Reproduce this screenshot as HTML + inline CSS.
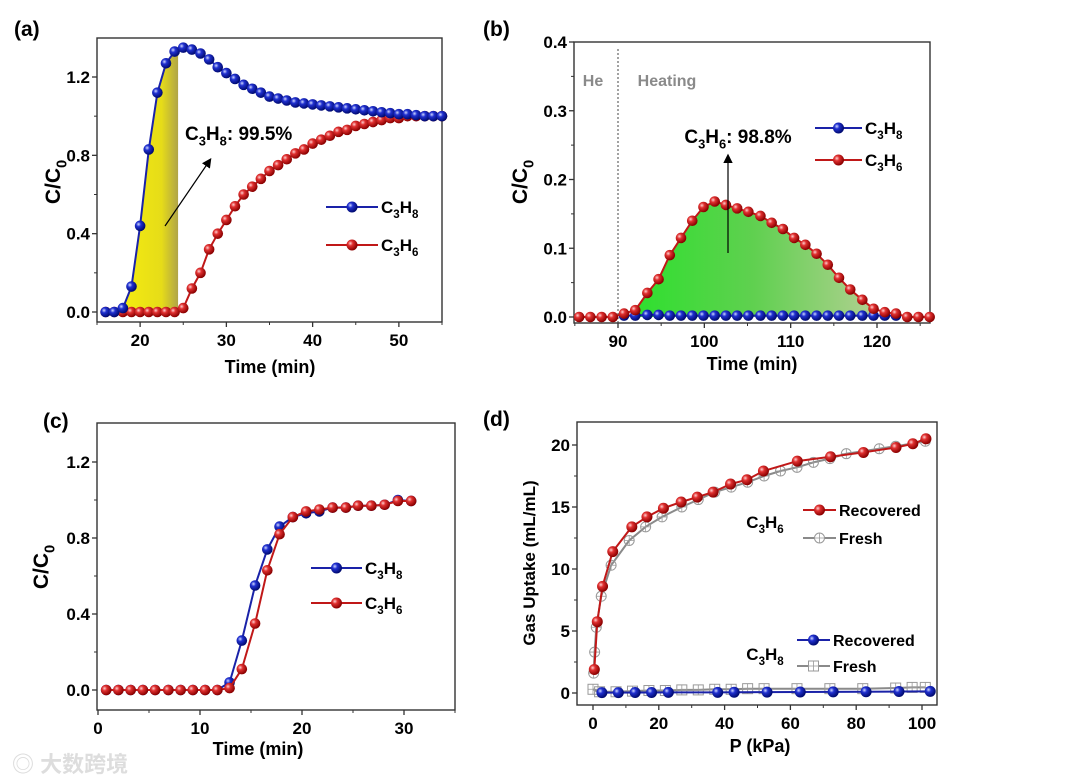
<!DOCTYPE html>
<html><head><meta charset="utf-8"><style>
html,body{margin:0;padding:0;background:#fff;}
svg{display:block;font-family:"Liberation Sans","Noto Sans CJK SC",sans-serif;}
</style></head><body>
<svg id="fig" width="1080" height="782" viewBox="0 0 1080 782">
<defs>
<radialGradient id="gRed" cx="35%" cy="35%" r="65%"><stop offset="0" stop-color="#ffd0d0"/><stop offset="0.35" stop-color="#e03030"/><stop offset="1" stop-color="#8a0000"/></radialGradient>
<radialGradient id="gBlue" cx="35%" cy="35%" r="65%"><stop offset="0" stop-color="#d0d8ff"/><stop offset="0.35" stop-color="#2030d0"/><stop offset="1" stop-color="#000a70"/></radialGradient>
<linearGradient id="gYellow" x1="0" x2="1" y1="0" y2="0"><stop offset="0" stop-color="#f4ec10"/><stop offset="0.7" stop-color="#e6dc18"/><stop offset="1" stop-color="#b0a448"/></linearGradient>
<linearGradient id="gGreen" x1="0" x2="1" y1="0" y2="0"><stop offset="0" stop-color="#2ee02e"/><stop offset="0.5" stop-color="#60d050"/><stop offset="1" stop-color="#b0d090"/></linearGradient>
<marker id="arr" markerWidth="8" markerHeight="8" refX="6" refY="4" orient="auto"><path d="M0,0 L8,4 L0,8 Z" fill="#000"/></marker>
</defs>
</svg>
<script>
// ---------- data ----------
const aTime=[16,17,18,19,20,21,22,23,24,25,26,27,28,29,30,31,32,33,34,35,36,37,38,39,40,41,42,43,44,45,46,47,48,49,50,51,52,53,54,55];
const aC3H8=[0,0,0.02,0.13,0.44,0.83,1.12,1.27,1.33,1.35,1.34,1.32,1.29,1.25,1.22,1.19,1.16,1.14,1.12,1.10,1.09,1.08,1.07,1.065,1.06,1.055,1.05,1.045,1.04,1.035,1.03,1.025,1.02,1.015,1.01,1.01,1.005,1.0,1.0,1.0];
const aC3H6=[0,0,0,0,0,0,0,0,0,0.02,0.12,0.20,0.32,0.40,0.47,0.54,0.60,0.64,0.68,0.72,0.75,0.78,0.81,0.83,0.86,0.88,0.90,0.92,0.93,0.95,0.96,0.97,0.98,0.99,0.99,1.0,1.0,1.0,1.0,1.0];
const bTime=[85.5,86.8,88.1,89.4,90.7,92.0,93.4,94.7,96.0,97.3,98.6,99.9,101.2,102.5,103.8,105.1,106.5,107.8,109.1,110.4,111.7,113.0,114.3,115.6,116.9,118.3,119.6,120.9,122.2,123.5,124.8,126.1];
const bC3H6=[0,0,0,0,0.005,0.01,0.035,0.055,0.09,0.115,0.14,0.16,0.168,0.163,0.158,0.153,0.147,0.137,0.128,0.115,0.105,0.092,0.076,0.057,0.04,0.025,0.012,0.007,0.005,0,0,0];
const bC3H8=[null,null,null,null,0.002,0.002,0.003,0.003,0.002,0.002,0.002,0.002,0.002,0.002,0.002,0.002,0.002,0.002,0.002,0.002,0.002,0.002,0.002,0.002,0.002,0.002,0.002,0.002,0.002,null,null,null];
const cTime=[0.8,2.0,3.2,4.4,5.6,6.9,8.1,9.3,10.5,11.7,12.9,14.1,15.4,16.6,17.8,19.1,20.4,21.7,23.0,24.3,25.5,26.8,28.1,29.4,30.7];
const cC3H8=[0,0,0,0,0,0,0,0,0,0,0.04,0.26,0.55,0.74,0.86,0.91,0.93,0.94,0.96,0.96,0.97,0.97,0.975,1.0,0.995];
const cC3H6=[0,0,0,0,0,0,0,0,0,0,0.01,0.11,0.35,0.63,0.82,0.91,0.94,0.95,0.96,0.96,0.97,0.97,0.975,0.995,0.995];
const dRecP6=[0.4,1.3,2.9,6.0,11.8,16.4,21.4,26.8,31.7,36.5,41.8,46.8,51.8,62.1,72.2,82.2,92.1,97.2,101.2];
const dRecU6=[1.9,5.75,8.6,11.4,13.4,14.2,14.9,15.4,15.8,16.2,16.85,17.2,17.9,18.7,19.05,19.4,19.8,20.1,20.5];
const dFrP6=[0.2,0.5,1.0,2.5,5.5,11,16,21,27,32,37,42,47,52,57,62,67,72,77,87,92,101];
const dFrU6=[1.6,3.3,5.3,7.8,10.3,12.3,13.4,14.2,15.0,15.6,16.2,16.6,17.0,17.5,17.9,18.2,18.6,18.9,19.3,19.7,19.9,20.3];
const dRecP8=[2.7,7.7,12.8,17.8,22.9,37.9,42.9,52.9,63.0,73.0,83.0,93.0,102.5];
const dRecU8=[0.03,0.03,0.04,0.04,0.05,0.05,0.06,0.07,0.08,0.09,0.1,0.12,0.13];
const dFrP8=[0,2,7,12,17,22,27,32,37,42,47,52,62,72,82,92,97,101];
const dFrU8=[0.3,0.1,0.1,0.15,0.2,0.2,0.25,0.25,0.3,0.3,0.35,0.35,0.35,0.35,0.35,0.4,0.45,0.45];

// ---------- helpers ----------
const NS='http://www.w3.org/2000/svg';
const svg=document.getElementById('fig');
function mk(tag,attrs,parent){const e=document.createElementNS(NS,tag);for(const k in attrs)e.setAttribute(k,attrs[k]);(parent||svg).appendChild(e);return e;}
function lin(d0,d1,p0,p1){return v=>p0+(v-d0)*(p1-p0)/(d1-d0);}
function txt(x,y,s,size,anchor,parent,fill){const t=mk('text',{x:x,y:y,'font-size':size,'font-weight':'bold','text-anchor':anchor||'start',fill:fill||'#000'},parent);t.textContent=s;return t;}
function chem(x,y,a,b,size,anchor,parent,extra){ // C_a H_b
  const t=mk('text',{x:x,y:y,'font-size':size,'font-weight':'bold','text-anchor':anchor||'start'},parent);
  const parts=[['C',0],[a,1],['H',0],[b,1]];
  parts.forEach(p=>{const s=mk('tspan',{},t);s.textContent=p[0];if(p[1]){s.setAttribute('font-size',size*0.68);s.setAttribute('dy',size*0.28);}else if(t.childNodes.length>1){s.setAttribute('dy',-size*0.28);}});
  if(extra){const s=mk('tspan',{dy:-size*0.28},t);s.textContent=extra;}
  return t;
}
function axes(g,box,xs,ys,xMaj,xMin,yMaj,yMin,xFmt,yFmt){
  const fr=mk('rect',{x:box[0],y:box[1],width:box[2]-box[0],height:box[3]-box[1],fill:'none',stroke:'#333','stroke-width':1.4},g);
  
  
  const xa=mk('g',{},g);
  
  
  xMaj.forEach(v=>{const x=xs(v);mk('line',{x1:x,x2:x,y1:box[3],y2:box[3]+5,stroke:'#333','stroke-width':1.3},xa);
    const t=txt(x,box[3]+24,xFmt(v),17,'middle',xa);
    
    });
  xMin.forEach(v=>{const x=xs(v);mk('line',{x1:x,x2:x,y1:box[3],y2:box[3]+3,stroke:'#333','stroke-width':1},xa);});
  const ya=mk('g',{},g);
  
  
  yMaj.forEach(v=>{const y=ys(v);mk('line',{x1:box[0]-5,x2:box[0],y1:y,y2:y,stroke:'#333','stroke-width':1.3},ya);
    const t=txt(box[0]-7,y+6,yFmt(v),17,'end',ya);
    
    });
  yMin.forEach(v=>{const y=ys(v);mk('line',{x1:box[0]-3,x2:box[0],y1:y,y2:y,stroke:'#333','stroke-width':1},ya);});
}
function series(g,X,Y,xs,ys,color,grad,r,name){
  const sg=mk('g',{},g);
  
  
  let d='';X.forEach((x,i)=>{if(Y[i]==null)return;d+=(d?'L':'M')+xs(x).toFixed(1)+','+ys(Y[i]).toFixed(1);});
  mk('path',{d:d,fill:'none',stroke:color,'stroke-width':2},sg);
  X.forEach((x,i)=>{if(Y[i]==null)return;const c=mk('circle',{cx:xs(x),cy:ys(Y[i]),r:r,fill:grad},sg);
    
    });
}
function ytitle(g,x,y,size){
  const t=mk('text',{x:0,y:0,'font-size':size,'font-weight':'bold','text-anchor':'middle',transform:'translate('+x+','+y+') rotate(-90)'},g);
  const a=mk('tspan',{},t);a.textContent='C/C';const b=mk('tspan',{'font-size':size*0.7,dy:size*0.3},t);b.textContent='0';
  
  
}
function legendEntry(g,x1,x2,y,color,grad,label,name,a,b){
  const lg=mk('g',{},g);
  
  
  mk('line',{x1:x1,x2:x2,y1:y,y2:y,stroke:color,'stroke-width':2},lg);
  mk('circle',{cx:(x1+x2)/2,cy:y,r:5.5,fill:grad},lg);
  if(label) txt(x2+3,y+6,label,16,'start',lg); else chem(x2+3,y+6,a,b,17,'start',lg);
}
const r1=v=>v.toFixed(1);

// ---------- panel a ----------
{
const g=mk('g',{});


const box=[97,38,442,322];
const xs=lin(15,55,97,442), ys=lin(0,1.2,312,77);
// yellow fill under C3H8 up to 24.4 min
const end=24.4;let pts=[];
aTime.forEach((t,i)=>{if(t>=18&&t<=24)pts.push([t,aC3H8[i]]);});
const i24=aTime.indexOf(24);const vEnd=aC3H8[i24]+(aC3H8[i24+1]-aC3H8[i24])*(end-24);
pts.push([end,vEnd]);
let d='M'+xs(18)+','+ys(0);pts.forEach(p=>d+='L'+xs(p[0]).toFixed(1)+','+ys(p[1]).toFixed(1));d+='L'+xs(end)+','+ys(0)+'Z';
const f=mk('path',{d:d,fill:'url(#gYellow)'},g);


axes(g,box,xs,ys,[20,30,40,50],[15,25,35,45,55],[0,0.4,0.8,1.2],[0.2,0.6,1.0],v=>v,r1);
series(g,aTime,aC3H6,xs,ys,'#c01818','url(#gRed)',5.3,'c3h6-series');
series(g,aTime,aC3H8,xs,ys,'#1a22a8','url(#gBlue)',5.3,'c3h8-series');
legendEntry(g,326,378,207,'#1a22a8','url(#gBlue)',null,'legend-c3h8','3','8');
legendEntry(g,326,378,245,'#c01818','url(#gRed)',null,'legend-c3h6','3','6');
const ar=mk('line',{x1:165,y1:226,x2:210,y2:160,stroke:'#000','stroke-width':1.2,'marker-end':'url(#arr)'},g);


const an=chem(185,140,'3','8',19,'start',g,': 99.5%');


ytitle(g,60,182,21);
const xt=txt(270,373,'Time (min)',18,'middle',g);


const pl=txt(14,36,'(a)',21,'start',g);


}
// ---------- panel b ----------
{
const g=mk('g',{});


const box=[574,42,930,323];
const xs=lin(90,120,618,877), ys=lin(0,0.4,317,42);
let pts=[];bTime.forEach((t,i)=>{if(t>=92&&t<=119.6)pts.push([t,bC3H6[i]]);});
let d='M'+xs(pts[0][0])+','+ys(0);pts.forEach(p=>d+='L'+xs(p[0]).toFixed(1)+','+ys(p[1]).toFixed(1));d+='L'+xs(pts[pts.length-1][0])+','+ys(0)+'Z';
const f=mk('path',{d:d,fill:'url(#gGreen)'},g);


const dl=mk('line',{x1:xs(90),x2:xs(90),y1:box[1]+7,y2:box[3],stroke:'#444','stroke-width':1,'stroke-dasharray':'2,2'},g);


const he=txt(593,86,'He',16,'middle',g,'#8a8a8a');


const ht=txt(667,86,'Heating',16,'middle',g,'#8a8a8a');


axes(g,box,xs,ys,[90,100,110,120],[85,95,105,115,125],[0,0.1,0.2,0.3,0.4],[0.05,0.15,0.25,0.35],v=>v,r1);
series(g,bTime,bC3H8,xs,ys,'#1a22a8','url(#gBlue)',5.3,'c3h8-series');
series(g,bTime,bC3H6,xs,ys,'#c01818','url(#gRed)',5.3,'c3h6-series');
legendEntry(g,815,862,128,'#1a22a8','url(#gBlue)',null,'legend-c3h8','3','8');
legendEntry(g,815,862,160,'#c01818','url(#gRed)',null,'legend-c3h6','3','6');
const ar=mk('line',{x1:728,y1:253,x2:728,y2:156,stroke:'#000','stroke-width':1.2,'marker-end':'url(#arr)'},g);


const an=chem(738,143,'3','6',19,'middle',g,': 98.8%');


ytitle(g,527,182,21);
const xt=txt(752,370,'Time (min)',18,'middle',g);


const pl=txt(483,36,'(b)',21,'start',g);


}
// ---------- panel c ----------
{
const g=mk('g',{});


const box=[97,423,455,710];
const xs=lin(0,30,98,404), ys=lin(0,1.2,690,462);
axes(g,box,xs,ys,[0,10,20,30],[5,15,25,35],[0,0.4,0.8,1.2],[0.2,0.6,1.0],v=>v,r1);
series(g,cTime,cC3H8,xs,ys,'#1a22a8','url(#gBlue)',5.3,'c3h8-series');
series(g,cTime,cC3H6,xs,ys,'#c01818','url(#gRed)',5.3,'c3h6-series');
legendEntry(g,311,362,568,'#1a22a8','url(#gBlue)',null,'legend-c3h8','3','8');
legendEntry(g,311,362,603,'#c01818','url(#gRed)',null,'legend-c3h6','3','6');
ytitle(g,48,567,21);
const xt=txt(258,755,'Time (min)',18,'middle',g);


const pl=txt(43,428,'(c)',21,'start',g);


}
// ---------- panel d ----------
{
const g=mk('g',{});


const box=[577,422,937,705];
const xs=lin(0,100,593,922), ys=lin(0,20,693,445);
axes(g,box,xs,ys,[0,20,40,60,80,100],[10,30,50,70,90],[0,5,10,15,20],[2.5,7.5,12.5,17.5],v=>v,v=>v);
function hollow(X,Y,shape,name){
  const sg=mk('g',{},g);
  
  
  let d='';X.forEach((x,i)=>d+=(i?'L':'M')+xs(x).toFixed(1)+','+ys(Y[i]).toFixed(1));
  mk('path',{d:d,fill:'none',stroke:'#8a8a8a','stroke-width':2},sg);
  X.forEach((x,i)=>{const cx=xs(x),cy=ys(Y[i]);let m;
    if(shape==='c'){m=mk('circle',{cx:cx,cy:cy,r:5,fill:'none',stroke:'#999','stroke-width':1},sg);}
    else{m=mk('rect',{x:cx-5,y:cy-5,width:10,height:10,fill:'none',stroke:'#999','stroke-width':1},sg);}
    mk('path',{d:'M'+(cx-5)+','+cy+'h10M'+cx+','+(cy-5)+'v10',stroke:'#999','stroke-width':0.8},sg);
    
    });
}
hollow(dFrP6,dFrU6,'c','c3h6-fresh-series');
hollow(dFrP8,dFrU8,'s','c3h8-fresh-series');
series(g,dRecP6,dRecU6,xs,ys,'#c01818','url(#gRed)',5.5,'c3h6-recovered-series');
series(g,dRecP8,dRecU8,xs,ys,'#1a22a8','url(#gBlue)',5.5,'c3h8-recovered-series');
const l6=chem(765,528,'3','6',17,'middle',g);


const l8=chem(765,660,'3','8',17,'middle',g);


legendEntry(g,803,836,510,'#c01818','url(#gRed)','Recovered','legend-c3h6-recovered');
legendEntry(g,797,830,640,'#1a22a8','url(#gBlue)','Recovered','legend-c3h8-recovered');
function hleg(x1,x2,y,shape,name){const lg=mk('g',{},g);
  
  
  mk('line',{x1:x1,x2:x2,y1:y,y2:y,stroke:'#8a8a8a','stroke-width':2},lg);
  const cx=(x1+x2)/2;
  if(shape==='c')mk('circle',{cx:cx,cy:y,r:5,fill:'#fff',stroke:'#999'},lg);else mk('rect',{x:cx-5,y:y-5,width:10,height:10,fill:'#fff',stroke:'#999'},lg);
  mk('path',{d:'M'+(cx-5)+','+y+'h10M'+cx+','+(y-5)+'v10',stroke:'#999','stroke-width':0.8},lg);
  txt(x2+3,y+6,'Fresh',16,'start',lg);}
hleg(803,836,538,'c','legend-c3h6-fresh');
hleg(797,830,666,'s','legend-c3h8-fresh');
const yt=mk('text',{x:0,y:0,'font-size':17,'font-weight':'bold','text-anchor':'middle',transform:'translate(535,563) rotate(-90)'},g);
yt.textContent='Gas Uptake (mL/mL)';


const xt=txt(760,752,'P (kPa)',18,'middle',g);


const pl=txt(483,426,'(d)',21,'start',g);


}
const wm=txt(12,772,'◎ 大数跨境',22,'start',svg,'#dddddd');


</script>
</body></html>
